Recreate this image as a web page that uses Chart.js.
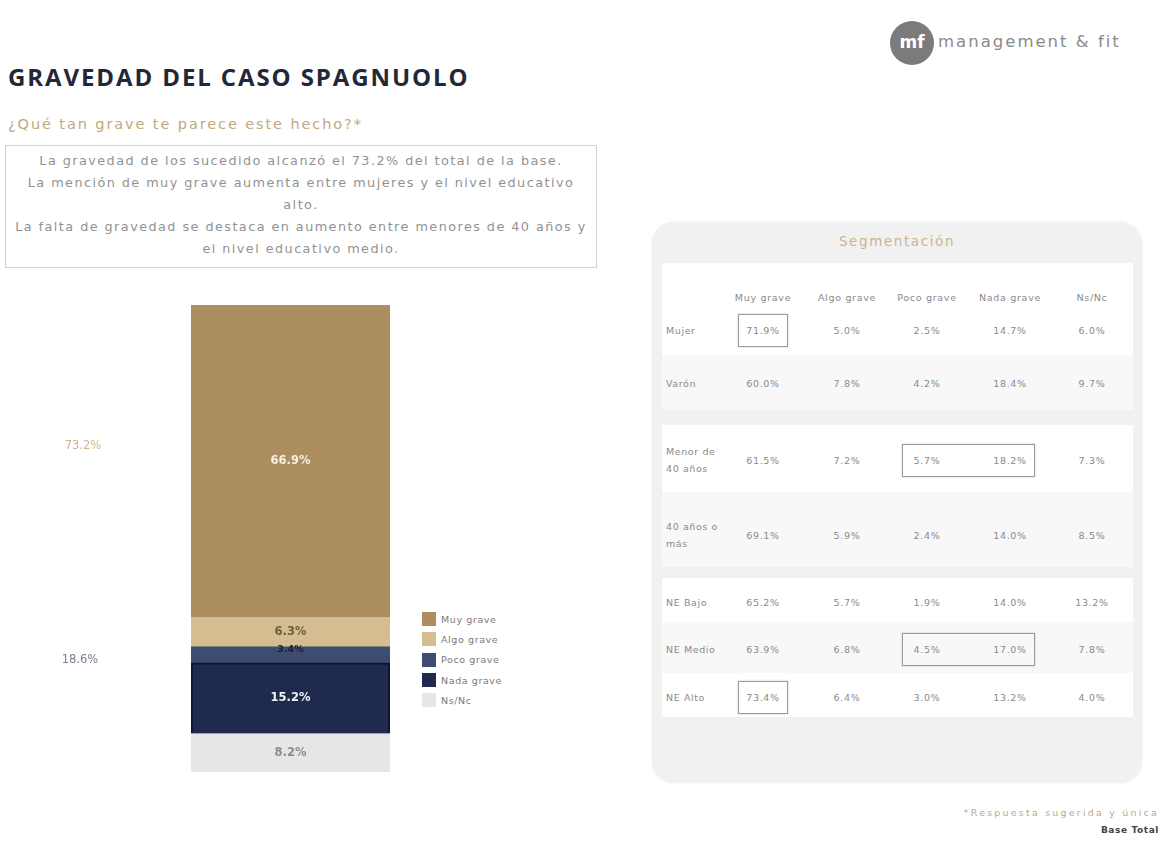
<!DOCTYPE html>
<html>
<head>
<meta charset="utf-8">
<script src="https://cdn.jsdelivr.net/npm/chart.js@4.4.0/dist/chart.umd.min.js"></script>
<style>
  body { margin:0; width:1161px; height:841px; background:#fff; font-family:"DejaVu Sans", sans-serif; position:relative; overflow:hidden; }
  .abs { position:absolute; }
  #title { left:8px; top:60px; font-family:"Open Sans", sans-serif; font-size:24px; font-weight:700; letter-spacing:1.9px; color:#232838; }
  #subtitle { left:8px; top:116px; font-size:14.5px; letter-spacing:1.9px; color:#c2a87e; }
  #note { left:5px; top:145px; width:592px; height:123px; border:1px solid #d2d2d2; box-sizing:border-box; text-align:center; font-size:12.8px; letter-spacing:1.45px; line-height:22px; color:#929292; padding-top:4px; white-space:nowrap; }
  #logo { left:890px; top:21px; width:44px; height:44px; border-radius:50%; background:#7b7b7b; color:#fff; font-weight:700; font-size:17px; text-align:center; line-height:42px; }
  #logotext { left:938px; top:32px; font-size:16.5px; letter-spacing:2px; color:#8a8a8a; }
  #legend { left:422px; top:609px; font-size:9.5px; letter-spacing:0.6px; color:#7a7a7a; }
  #legend div { height:20.3px; display:flex; align-items:center; }
  #legend span.box { width:14px; height:14px; margin-right:5px; display:inline-block; }
  #seg { left:652px; top:222px; width:490px; height:561px; background:#f1f1f1; border-radius:22px; box-shadow:0 0 3px rgba(0,0,0,0.08); }
  .band { position:absolute; left:10px; width:471px; }
  .cell { position:absolute; font-size:9.5px; letter-spacing:0.7px; color:#8a8a8a; transform:translate(-50%,-50%); white-space:nowrap; }
  .rowlab { position:absolute; left:14px; font-size:9.5px; letter-spacing:0.6px; color:#8a8a8a; line-height:17px; transform:translateY(-50%); width:62px; }
  .hl { position:absolute; border:1px solid #9a9a9a; box-shadow:0 0 2px rgba(0,0,0,0.2); box-sizing:border-box; }
  #footer1 { right:2px; top:807px; font-size:9.5px; letter-spacing:2.2px; color:#bba98b; }
  #footer2 { right:2px; top:825px; font-size:9px; letter-spacing:0.6px; color:#444; font-weight:700; }
</style>
</head>
<body>
<div id="title" class="abs">GRAVEDAD DEL CASO SPAGNUOLO</div>
<div id="subtitle" class="abs">¿Qué tan grave te parece este hecho?*</div>
<div id="note" class="abs">La gravedad de los sucedido alcanzó el 73.2% del total de la base.<br>La mención de muy grave aumenta entre mujeres y el nivel educativo<br>alto.<br>La falta de gravedad se destaca en aumento entre menores de 40 años y<br>el nivel educativo medio.</div>
<div id="logo" class="abs">mf</div>
<div id="logotext" class="abs">management &amp; fit</div>
<canvas id="myChart" class="abs" width="420" height="500" style="left:0;top:290px;"></canvas>
<div id="legend" class="abs"></div>
<div id="seg" class="abs"></div>
<div id="footer1" class="abs">*Respuesta sugerida y única</div>
<div id="footer2" class="abs">Base Total</div>
<script>
// total sample, one stacked bar
let categories = ['Muy grave', 'Algo grave', 'Poco grave', 'Nada grave', 'Ns/Nc'];
let totalValues = [66.9, 6.3, 3.4, 15.2, 8.2];
let barColors = ['#ad8f5f', '#d5bd92', '#3e4c72', '#1f2a4e', '#e6e6e6'];
let labelColors = ['#f6efe2', '#6e5c3c', '#1a1f33', '#f2f2f2', '#8c8c8c'];

// segmentation table
let segRows = ['Mujer', 'Varón', 'Menor de 40 años', '40 años o más', 'NE Bajo', 'NE Medio', 'NE Alto'];
let mujer = [71.9, 5.0, 2.5, 14.7, 6.0];
let varon = [60.0, 7.8, 4.2, 18.4, 9.7];
let menor40 = [61.5, 7.2, 5.7, 18.2, 7.3];
let mayor40 = [69.1, 5.9, 2.4, 14.0, 8.5];
let neBajo = [65.2, 5.7, 1.9, 14.0, 13.2];
let neMedio = [63.9, 6.8, 4.5, 17.0, 7.8];
let neAlto = [73.4, 6.4, 3.0, 13.2, 4.0];
let segValues = [mujer, varon, menor40, mayor40, neBajo, neMedio, neAlto];

let ctx = document.getElementById('myChart').getContext('2d');

// bottom segment first in the stack
let stackOrder = [4, 3, 2, 1, 0];

let segLabels = {
    id: 'segLabels',
    afterDatasetsDraw(chart)
    {
        let c = chart.ctx;
        c.save();
        c.textAlign = 'center';
        c.textBaseline = 'middle';
        chart.data.datasets.forEach(function(ds, i)
        {
            let k = stackOrder[i];
            let bar = chart.getDatasetMeta(i).data[0];
            c.fillStyle = labelColors[k];
            c.font = (k == 2 ? '700 9.5px' : '700 11.5px') + ' "DejaVu Sans"';
            let y = (bar.y + bar.base) / 2;
            if (k == 2) y = bar.y + 3;
            c.fillText(totalValues[k].toFixed(1) + '%', bar.x, y);
        });

        // grouped totals on the left
        let yScale = chart.scales.y;
        let top = totalValues[0] + totalValues[1];
        let mid = totalValues[2] + totalValues[3];
        let base = totalValues[4];
        c.font = '11.5px "DejaVu Sans"';
        c.fillStyle = '#cdb48c';
        c.fillText(top.toFixed(1) + '%', 83, yScale.getPixelForValue(base + mid + top / 2) - 30);
        c.fillStyle = '#7c8090';
        c.fillText(mid.toFixed(1) + '%', 80, yScale.getPixelForValue(base + mid / 2) - 30);
        c.restore();
    }
};

let myChart = new Chart(ctx,
{
    type: 'bar',
    data:
    {
        labels: ['Total'],
        datasets: stackOrder.map(function(k)
        {
            return {
                label: categories[k],
                data: [totalValues[k]],
                backgroundColor: barColors[k],
                borderColor: k == 3 ? '#0c1330' : barColors[k],
                borderWidth: k == 3 ? 2 : 0,
                barPercentage: 1,
                categoryPercentage: 1
            };
        })
    },
    options:
    {
        responsive: false,
        animation: false,
        layout: { padding: { left: 191, right: 30, top: 15, bottom: 18 } },
        scales:
        {
            x: { stacked: true, display: false },
            y: { stacked: true, display: false, min: 0, max: 100 }
        },
        plugins:
        {
            legend: { display: false },
            tooltip: { enabled: false }
        }
    },
    plugins: [segLabels]
});

// legend
let legend = document.getElementById('legend');
categories.forEach(function(name, k)
{
    legend.innerHTML += '<div><span class="box" style="background:' + barColors[k] + '"></span>' + name + '</div>';
});

// segmentation panel
let seg = document.getElementById('seg');
let colX = [111, 195, 275, 358, 440];
let rowY = [108, 161, 238, 313, 380, 427, 475];
let bands = [[41, 133, '#fff'], [133, 188, '#f8f8f8'], [203, 270, '#fff'], [270, 345, '#f8f8f8'], [356, 400, '#fff'], [400, 451, '#f8f8f8'], [451, 495, '#fff']];
let html = '<div style="position:absolute;left:0;width:490px;top:11px;text-align:center;font-size:13.5px;letter-spacing:1.6px;color:#cdb48c;">Segmentación</div>';
bands.forEach(function(b)
{
    html += '<div class="band" style="top:' + b[0] + 'px;height:' + (b[1] - b[0]) + 'px;background:' + b[2] + '"></div>';
});
categories.forEach(function(name, j)
{
    html += '<div class="cell" style="left:' + colX[j] + 'px;top:75px">' + name + '</div>';
});
segRows.forEach(function(name, i)
{
    html += '<div class="rowlab" style="top:' + rowY[i] + 'px">' + name + '</div>';
    segValues[i].forEach(function(v, j)
    {
        html += '<div class="cell" style="left:' + colX[j] + 'px;top:' + rowY[i] + 'px">' + v.toFixed(1) + '%</div>';
    });
});
// highlighted cells: row, first col, last col
let highlights = [[0, 0, 0], [2, 2, 3], [5, 2, 3], [6, 0, 0]];
highlights.forEach(function(h)
{
    let x0 = colX[h[1]] - 25, x1 = colX[h[2]] + 25;
    html += '<div class="hl" style="left:' + x0 + 'px;width:' + (x1 - x0) + 'px;top:' + (rowY[h[0]] - 16) + 'px;height:33px"></div>';
});
seg.innerHTML = html;
</script>
</body>
</html>
